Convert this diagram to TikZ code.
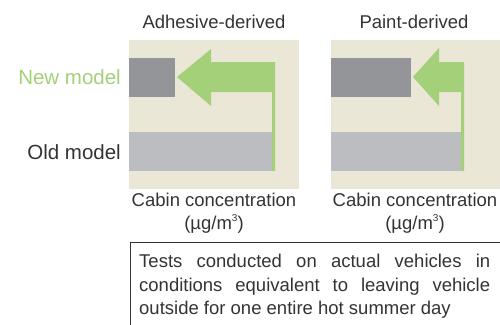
\documentclass[tikz,border=0pt]{standalone}
\usepackage{fontspec}
\setmainfont{Liberation Sans}
\definecolor{panel}{HTML}{EBE7D6}
\definecolor{newbar}{HTML}{949599}
\definecolor{oldbar}{HTML}{BCBDC1}
\definecolor{arrowgreen}{HTML}{A3D078}
\definecolor{txt}{HTML}{333333}
\begin{document}
\begin{tikzpicture}[x=1pt,y=-1pt,
    lbl/.style={text=txt,inner sep=0pt,font=\fontsize{18.5}{23.5}\selectfont},
    bar/.style={inner sep=0pt,anchor=north west}]
  \useasboundingbox (0,0) rectangle (500,324);
  \clip (0,0) rectangle (500,324);
  % panels
  \fill[panel] (129,40) rectangle (299,189);
  \fill[panel] (331,40) rectangle (500,189);
  % bars, adhesive
  \node[bar,fill=newbar,minimum width=46pt,minimum height=39pt] (adhNew) at (129,58) {};
  \node[bar,fill=oldbar,minimum width=143pt,minimum height=39pt] (adhOld) at (129,132) {};
  % bars, paint
  \node[bar,fill=newbar,minimum width=80pt,minimum height=39pt] (pntNew) at (331,58) {};
  \node[bar,fill=oldbar,minimum width=131pt,minimum height=39pt] (pntOld) at (331,132) {};
  % reduction arrows
  \fill[arrowgreen] (177,77) -- (211,49) -- (211,62) -- (275,62) -- (275,171) -- (272,171)
      -- (272,92) -- (211,92) -- (211,106) -- cycle;
  \fill[arrowgreen] (413,77) -- (439,48) -- (439,62) -- (464,62) -- (464,171) -- (461,171)
      -- (461,92) -- (439,92) -- (439,106) -- cycle;
  % titles
  \node[lbl] (adhTitle) at (214,22) {Adhesive-derived};
  \node[lbl] (pntTitle) at (414,22) {Paint-derived};
  \node[lbl,anchor=east,text=arrowgreen,font=\fontsize{20.5}{24}\selectfont] (newLbl) at (121,77) {New model};
  \node[lbl,anchor=east,font=\fontsize{20.5}{24}\selectfont] (oldLbl) at (121,152) {Old model};
  % axis labels
  \node[lbl,align=center] (adhUnit) at (214,213) {Cabin concentration\\(µg/m\raisebox{0.45em}{\fontsize{10}{10}\selectfont 3})};
  \node[lbl,align=center] (pntUnit) at (415,213) {Cabin concentration\\(µg/m\raisebox{0.45em}{\fontsize{10}{10}\selectfont 3})};
  % test note
  \draw[txt,line width=1pt] (510,242) -- (130,242) -- (130,330);
  \node[lbl,anchor=north west,text width=351pt,align=justify,
        execute at begin node={\hyphenpenalty=10000\exhyphenpenalty=10000}] (note) at (139,254)
    {Tests conducted on actual vehicles in\linebreak conditions equivalent to leaving vehicle\linebreak outside for one entire hot summer day};
\end{tikzpicture}
\end{document}
